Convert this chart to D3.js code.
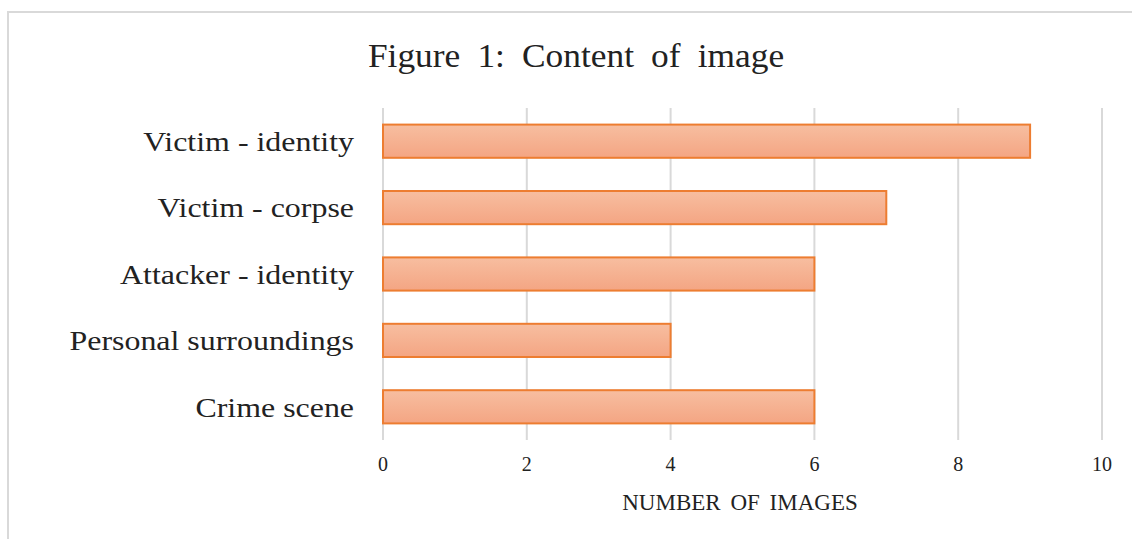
<!DOCTYPE html>
<head>
  <meta charset="utf-8">
  <title>Content of image</title>
  <script src="https://d3js.org/d3.v7.min.js"></script>
  <style>
    body { margin: 0; background: #fff; }
    text { font-family: "Liberation Serif", "Times New Roman", serif; fill: #222; }
  </style>
</head>
<body>
  <svg id="chart" width="1132" height="539"></svg>
  <script>
    var categories = ["Victim - identity", "Victim - corpse", "Attacker - identity", "Personal surroundings", "Crime scene"];
    var values = [9, 7, 6, 4, 6];
    var xTicks = [0, 2, 4, 6, 8, 10];

    var svg = d3.select("#chart");
    var margin = {left: 383, right: 30, top: 108, bottom: 99};
    var width = 1132, height = 539;

    // chart frame
    svg.append("rect")
      .attr("x", 8).attr("y", 12)
      .attr("width", 1140).attr("height", 540)
      .attr("fill", "none").attr("stroke", "#d9d9d9").attr("stroke-width", 2);

    var defs = svg.append("defs");
    var grad = defs.append("linearGradient")
      .attr("id", "barfill").attr("x1", 0).attr("y1", 0).attr("x2", 0).attr("y2", 1);
    grad.append("stop").attr("offset", "0%").attr("stop-color", "#f7bea0");
    grad.append("stop").attr("offset", "100%").attr("stop-color", "#f4a583");

    var x = d3.scaleLinear().domain([0, 10]).range([margin.left, 1102]);
    var y = d3.scaleBand().domain(categories)
      .range([margin.top, height - margin.bottom]).paddingInner(0.5).paddingOuter(0.25);

    // gridlines
    svg.selectAll(".grid")
      .data(xTicks)
      .enter().append("line")
      .attr("class", "grid")
      .attr("x1", d => x(d)).attr("x2", d => x(d))
      .attr("y1", margin.top).attr("y2", height - margin.bottom)
      .attr("stroke", "#d9d9d9").attr("stroke-width", 2);

    // bars
    svg.selectAll(".bar")
      .data(values)
      .enter().append("rect")
      .attr("class", "bar")
      .attr("x", x(0))
      .attr("y", (d, i) => y(categories[i]))
      .attr("width", d => x(d) - x(0))
      .attr("height", y.bandwidth())
      .attr("fill", "url(#barfill)")
      .attr("stroke", "#ed7d31").attr("stroke-width", 2);

    // category labels (the original text is a bit stretched sideways)
    svg.selectAll(".cat")
      .data(categories)
      .enter().append("text")
      .attr("class", "cat")
      .attr("transform", d => "translate(354," + (y(d) + y.bandwidth() / 2) + ") scale(1.14,1)")
      .attr("dy", "0.35em")
      .attr("text-anchor", "end")
      .style("font-size", "28px")
      .text(d => d);

    // tick labels
    svg.selectAll(".tick-label")
      .data(xTicks)
      .enter().append("text")
      .attr("class", "tick-label")
      .attr("x", d => x(d))
      .attr("y", 471)
      .attr("text-anchor", "middle")
      .style("font-size", "20px")
      .text(d => d);

    svg.append("text")
      .attr("x", 740).attr("y", 510)
      .attr("text-anchor", "middle")
      .style("font-size", "23px")
      .style("word-spacing", "4px")
      .text("NUMBER OF IMAGES");

    svg.append("text")
      .attr("transform", "translate(576,67) scale(1.04,1)")
      .attr("text-anchor", "middle")
      .style("font-size", "34px")
      .style("word-spacing", "8px")
      .text("Figure 1: Content of image");
  </script>
</body>
</html>
